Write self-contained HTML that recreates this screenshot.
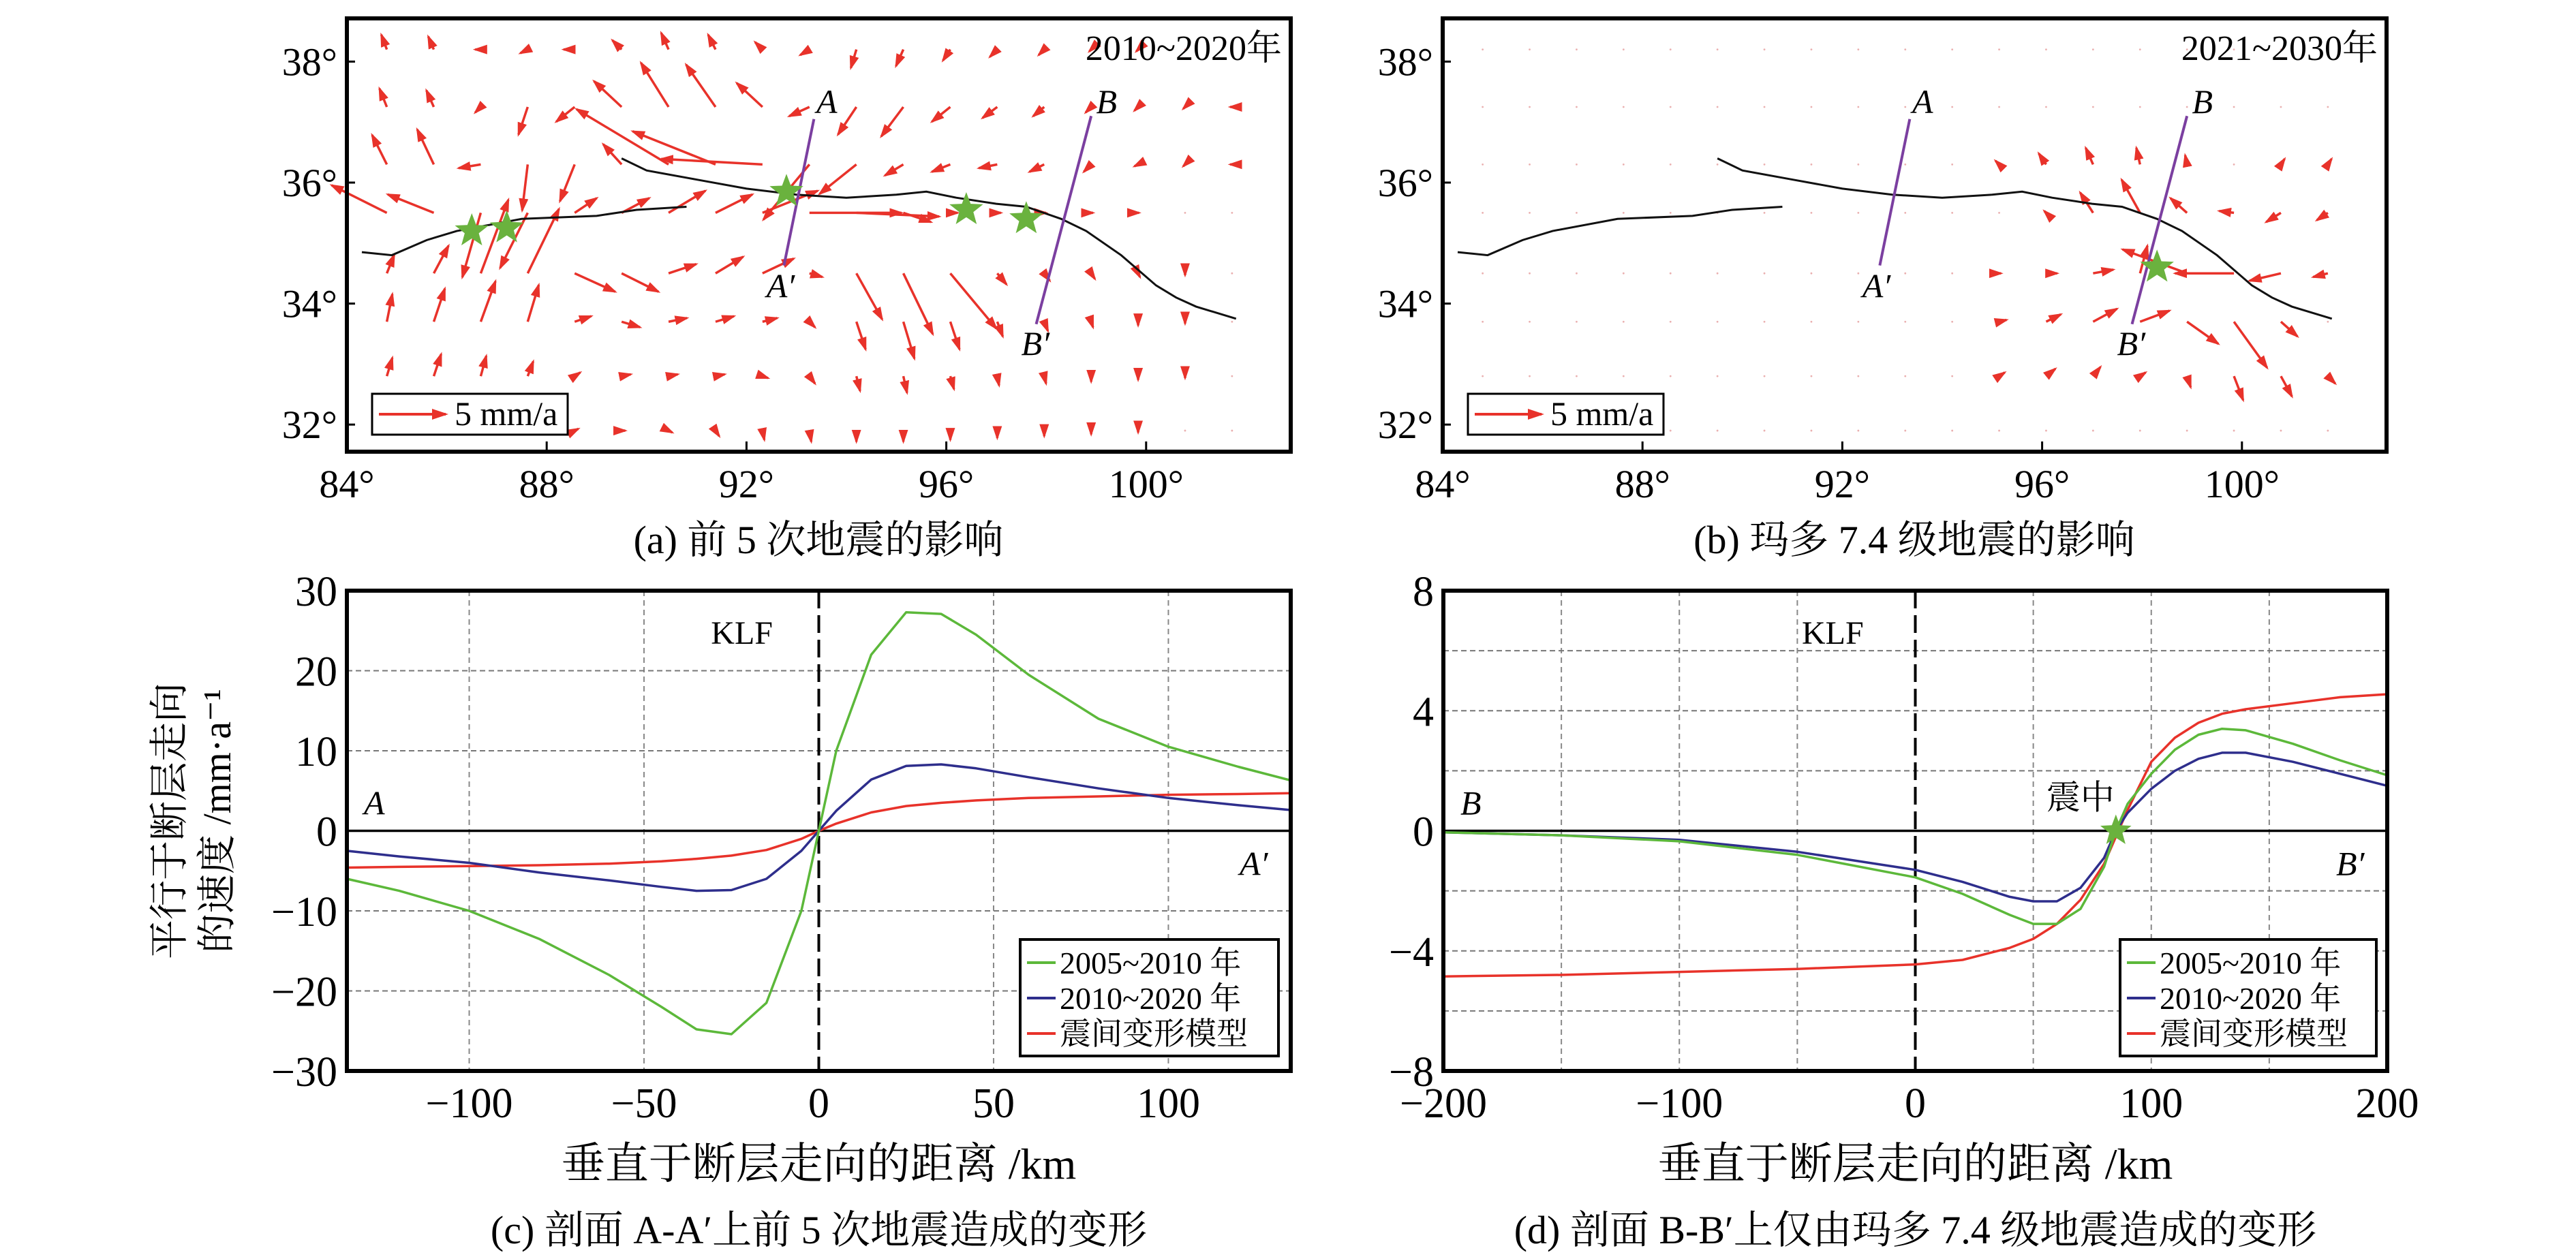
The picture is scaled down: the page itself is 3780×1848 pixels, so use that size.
<!DOCTYPE html>
<html><head><meta charset="utf-8">
<style>
html,body{margin:0;padding:0;background:#fff;}
svg text{font-family:"Liberation Serif","Noto Serif CJK SC",serif;fill:#000;}
</style></head>
<body>
<svg id="fig" xmlns="http://www.w3.org/2000/svg" width="3780" height="1843" viewBox="0 0 3780 1843">
<defs>
<marker id="ah" markerWidth="6" markerHeight="5" refX="5" refY="2.5" orient="auto" markerUnits="strokeWidth"><path d="M0,0.5 L6,2.5 L0,4.5 z" fill="#e8322a"/></marker>
</defs>
</svg>
<script>
// ---------- data ----------
const mapLon0 = 84.8, mapLonStep = 0.94;
const mapRowLats = [38.2, 37.25, 36.3, 35.5, 34.5, 33.7, 32.8, 31.9];
const mapAU = [
[-0.3,-0.3,-0.3,-0.4,-0.6,-0.5,-0.4,-0.4,-0.4,-0.5,-0.3,-0.4,-0.4,-0.4,-0.3,-0.1,-0.1,0,0],
[-0.4,-0.4,-0.3,-0.5,-1,-1.5,-1.5,-1.6,-1.4,-1.1,-1,-1.2,-1,-0.8,-0.6,-0.3,-0.2,-0.1,-0.1],
[-0.8,-0.9,-1.2,-0.3,-0.8,-1,-5,-4.5,-5.5,-2.5,-2,-1,-1,-1,-0.8,-0.4,-0.2,-0.1,-0.1],
[-3,-2.5,-1,-1.5,1.2,1.5,2,2,3,5,4.5,1.5,0.4,0.2,0.1,0.1,0.05,0,0],
[0.4,0.8,1.5,1.7,2.2,2,1.5,1.5,1.7,0.7,1.4,1.6,2.5,0.5,0.3,0.2,0.1,0,0],
[0.3,0.6,0.8,0.6,0.9,1,1,1,0.8,0.3,0.5,0.6,0.5,0.3,0.2,0.1,0,0,0],
[0.3,0.4,0.3,0.3,0.3,0.5,0.5,0.5,0.3,0.3,0.2,0.2,0.2,0.1,0.1,0,0,0,0],
[0,0,0,0,0.2,0.2,0.2,0.2,0.1,0.1,0,0,0,0,0,0,0,0,0]];
const mapAV = [
[0.8,0.7,0,-0.2,0,0.5,0.9,0.8,0.4,-0.3,-1,-0.9,-0.6,-0.4,-0.3,-0.1,-0.1,0,0],
[1,0.9,-0.3,-1.5,-0.8,1.4,2.4,2.3,1.3,-0.5,-1.5,-1.6,-0.8,-0.6,-0.5,-0.3,-0.2,-0.1,0],
[1.6,1.9,-0.2,-2.5,-2,1.1,3,1.8,0.3,-3,-1.6,-0.6,-0.4,-0.2,-0.4,-0.4,-0.1,-0.1,0],
[1.5,1,-3.5,-3,0.8,0.8,1.2,1,1.2,0,-0.2,-0.5,0,0,0,0,0,0,0],
[1,1.5,4,3.5,-1,-1,0.5,0.9,0.8,-0.2,-2.5,-3.3,-3,-0.6,-0.4,-0.3,-0.2,-0.1,0],
[1.5,1.8,2.2,2,0.3,-0.3,0.2,0.3,0.2,-0.3,-1.5,-2,-1.5,-0.8,-0.5,-0.3,-0.2,-0.1,0],
[1,1.2,1.1,0.8,0.2,0.1,0.1,0.1,-0.1,-0.4,-0.8,-0.9,-0.7,-0.5,-0.4,-0.3,-0.2,-0.1,0],
[0,0,0,0,0.1,0,-0.1,-0.3,-0.5,-0.6,-0.6,-0.6,-0.5,-0.4,-0.3,-0.2,-0.1,0,0]];
const mapBU = [
[0,0,0,0,0,0,0,0,0,0,0,0,0,0,0,0,0,0,0],
[0,0,0,0,0,0,0,0,0,0,0,0,0,0,0,0,0,0,0],
[0,0,0,0,0,0,0,0,0,0,0,-0.2,-0.4,-0.4,-0.2,-0.1,0,0.2,0.2],
[0,0,0,0,0,0,0,0,0,0,0,0,-0.1,-0.7,-1,-0.9,-0.8,-0.8,-0.6],
[0,0,0,0,0,0,0,0,0,0,0,0.1,0.6,1.1,0.4,-3.5,-3.2,-1.7,-0.8],
[0,0,0,0,0,0,0,0,0,0,0,0.4,0.8,1.3,1.6,1.7,1.8,0.9,0],
[0,0,0,0,0,0,0,0,0,0,0,0.3,0.5,0.4,0.3,0.2,0.5,0.6,0.4],
[0,0,0,0,0,0,0,0,0,0,0,0,0,0,0,0,0,0,0]];
const mapBV = [
[0,0,0,0,0,0,0,0,0,0,0,0,0,0,0,0,0,0,0],
[0,0,0,0,0,0,0,0,0,0,0,0,0,0,0,0,0,0,0],
[0,0,0,0,0,0,0,0,0,0,0,0.2,0.6,0.9,0.9,0.5,0,0.3,0.3],
[0,0,0,0,0,0,0,0,0,0,0,0,0.1,1.1,1.8,0.8,0.1,-0.5,-0.4],
[0,0,0,0,0,0,0,0,0,0,0,0,0,0.2,1.5,1.3,0,-0.4,-0.2],
[0,0,0,0,0,0,0,0,0,0,0,0.1,0.4,0.7,0.6,-1.2,-2.5,-0.8,0],
[0,0,0,0,0,0,0,0,0,0,0,0.2,0.4,0.5,0.2,-0.6,-1.3,-1.1,-0.4],
[0,0,0,0,0,0,0,0,0,0,0,0,0,0,0,0,0,0,0]];
const fault1Lon = [84.3,84.9,85.6,86.2,87.5,89,89.8,90.8];
const fault1Lat = [34.85,34.8,35.05,35.2,35.4,35.45,35.55,35.6];
const fault2Lon = [89.5,90,91,92,93,94,95,95.6,96.2,97,97.6,98.3,98.8,99.5,100.2,100.6,101,101.8];
const fault2Lat = [36.4,36.2,36.05,35.9,35.8,35.75,35.8,35.85,35.75,35.65,35.6,35.4,35.2,34.8,34.3,34.1,33.95,33.75];
const starsALon = [86.5,87.2,92.8,96.4,97.6];
const starsALat = [35.2,35.25,35.85,35.55,35.4];
const starsBLon = [98.3];
const starsBLat = [34.6];

const cX = [-135,-120,-100,-80,-60,-45,-35,-25,-15,-5,0,5,15,25,35,45,60,80,100,120,135];
const cGreen = [-6,-7.5,-10,-13.5,-18,-22,-24.8,-25.4,-21.5,-10,0,10,22,27.3,27.1,24.5,19.5,14,10.5,8,6.3];
const cBlue = [-2.5,-3.2,-4,-5.2,-6.2,-7,-7.5,-7.4,-6,-2.5,0,2.5,6.4,8.1,8.3,7.8,6.7,5.3,4.1,3.2,2.6];
const cRed = [-4.6,-4.5,-4.4,-4.3,-4.1,-3.8,-3.5,-3.1,-2.4,-1,0,0.9,2.3,3.1,3.5,3.8,4.1,4.3,4.5,4.6,4.7];
const dX = [-200,-150,-100,-50,0,20,40,50,60,70,80,85,90,100,110,120,130,140,160,180,200];
const dGreen = [-0.05,-0.15,-0.35,-0.8,-1.55,-2.1,-2.8,-3.1,-3.1,-2.6,-1.2,0,0.9,1.9,2.7,3.2,3.4,3.35,2.9,2.35,1.85];
const dBlue = [-0.05,-0.15,-0.3,-0.7,-1.3,-1.7,-2.2,-2.35,-2.35,-1.9,-0.9,0,0.6,1.4,2.0,2.4,2.6,2.6,2.3,1.9,1.5];
const dRed = [-4.85,-4.8,-4.7,-4.6,-4.45,-4.3,-3.9,-3.6,-3.1,-2.3,-1.1,-0.2,0.7,2.3,3.1,3.6,3.9,4.05,4.25,4.45,4.55];
const cYTicks = [30,20,10,0,-10,-20,-30];
const cYTickLabels = ["30","20","10","0","−10","−20","−30"];
const cXTicks = [-100,-50,0,50,100];
const cXTickLabels = ["−100","−50","0","50","100"];
const dYTicks = [8,4,0,-4,-8];
const dYTickLabels = ["8","4","0","−4","−8"];
const dXTicks = [-200,-100,0,100,200];
const dXTickLabels = ["−200","−100","0","100","200"];
const mapLonTicks = [84,88,92,96,100];
const mapLatTicks = [38,36,34,32];

// ---------- helpers ----------
const svg = document.getElementById('fig');
const NS = 'http://www.w3.org/2000/svg';
function mk(tag, attrs, parent){
  const e = document.createElementNS(NS, tag);
  for (const k in attrs) e.setAttribute(k, attrs[k]);
  (parent || svg).appendChild(e);
  return e;
}
function txt(x, y, s, size, parent, extra){
  const a = {x:x, y:y, 'font-size':size};
  if (extra) for (const k in extra) a[k] = extra[k];
  const t = mk('text', a, parent);
  t.textContent = s;
  return t;
}
function starPts(cx, cy, r){
  const p = [];
  for (let i = 0; i < 10; i++){
    const rr = i % 2 ? r * 0.42 : r;
    const an = -Math.PI/2 + i * Math.PI/5;
    p.push((cx + rr*Math.cos(an)).toFixed(1) + ',' + (cy + rr*Math.sin(an)).toFixed(1));
  }
  return p.join(' ');
}

// ---------- maps ----------
function drawMap(ox, U, V, sLon, sLat, period, tag, caption){
  const g = mk('g', {});
  
  
  const X = lon => ox + (lon - 84) * 73.3;
  const Y = lat => 268 - (lat - 36) * 88.8;
  const scale = 27;
  for (let r = 0; r < mapRowLats.length; r++){
    for (let c = 0; c < 19; c++){
      const lon = mapLon0 + c * mapLonStep;
      const x0 = X(lon), y0 = Y(mapRowLats[r]);
      const u = U[r][c], v = V[r][c];
      if (Math.abs(u) + Math.abs(v) < 0.05){
        const d = mk('circle', {cx:x0, cy:y0, r:1.4, fill:'#eab0b0'}, g);
        
        
      } else {
        const a = mk('line', {x1:x0, y1:y0, x2:x0 + u*scale, y2:y0 - v*scale, stroke:'#e8322a', 'stroke-width':3.5, 'marker-end':'url(#ah)'}, g);
        
        
      }
    }
  }
  const f1 = mk('polyline', {points: fault1Lon.map((l,i)=>X(l)+','+Y(fault1Lat[i])).join(' '), fill:'none', stroke:'#111', 'stroke-width':3}, g);
  
  
  const f2 = mk('polyline', {points: fault2Lon.map((l,i)=>X(l)+','+Y(fault2Lat[i])).join(' '), fill:'none', stroke:'#111', 'stroke-width':3}, g);
  
  
  const pa = mk('line', {x1:X(93.35), y1:Y(37.05), x2:X(92.75), y2:Y(34.63), stroke:'#7b3fa0', 'stroke-width':4}, g);
  
  
  const pb = mk('line', {x1:X(98.9), y1:Y(37.1), x2:X(97.8), y2:Y(33.66), stroke:'#7b3fa0', 'stroke-width':4}, g);
  
  
  const it = {'font-style':'italic'};
  let t;
  t = txt(X(93.4), Y(37.15), 'A', 50, g, it);
  
  t = txt(X(92.4), Y(34.1), 'A′', 50, g, it);
  
  t = txt(X(99.0), Y(37.15), 'B', 50, g, it);
  
  t = txt(X(97.5), Y(33.15), 'B′', 50, g, it);
  
  for (let i = 0; i < sLon.length; i++){
    const s = mk('polygon', {points: starPts(X(sLon[i]), Y(sLat[i]), 26), fill:'#6ab23e'}, g);
    
    
  }
  const fr = mk('rect', {x:ox, y:27, width:1385, height:636, fill:'none', stroke:'#000', 'stroke-width':6}, g);
  
  
  for (const lon of mapLonTicks){
    mk('line', {x1:X(lon), y1:663, x2:X(lon), y2:648, stroke:'#000', 'stroke-width':3}, g);
    const l = txt(X(lon), 730, lon + '°', 58, g, {'text-anchor':'middle'});
    
  }
  for (const lat of mapLatTicks){
    mk('line', {x1:ox, y1:Y(lat), x2:ox+12, y2:Y(lat), stroke:'#000', 'stroke-width':3}, g);
    const l = txt(ox - 14, Y(lat) + 20, lat + '°', 58, g, {'text-anchor':'end'});
    
  }
  t = txt(ox + 1372, 88, period, 52, g, {'text-anchor':'end'});
  
  const lb = mk('rect', {x:ox+37, y:578, width:287, height:60, fill:'#fff', stroke:'#000', 'stroke-width':3}, g);
  
  
  mk('line', {x1:ox+47, y1:608, x2:ox+145, y2:608, stroke:'#e8322a', 'stroke-width':4, 'marker-end':'url(#ah)'}, g);
  t = txt(ox + 158, 624, '5 mm/a', 50, g);
  
  t = txt(ox + 692, 812, caption, 58, g, {'text-anchor':'middle'});
  
}
drawMap(509, mapAU, mapAV, starsALon, starsALat, '2010~2020年', 'a', '(a) 前 5 次地震的影响');
drawMap(2117, mapBU, mapBV, starsBLon, starsBLat, '2021~2030年', 'b', '(b) 玛多 7.4 级地震的影响');

// ---------- profiles ----------
function drawProfile(o){
  const g = mk('g', {});
  
  
  const L = o.x0, R = o.x1, T = 867, B = 1572;
  const X = v => L + (v - o.xmin) / (o.xmax - o.xmin) * (R - L);
  const Y = v => B - (v - o.ymin) / (o.ymax - o.ymin) * (B - T);
  for (const gx of o.gridX){
    const l = mk('line', {x1:X(gx), y1:T, x2:X(gx), y2:B, stroke:'#888', 'stroke-width':2, 'stroke-dasharray':'8,6'}, g);
    
  }
  for (const gy of o.gridY){
    const l = mk('line', {x1:L, y1:Y(gy), x2:R, y2:Y(gy), stroke:'#777', 'stroke-width':2, 'stroke-dasharray':'8,5'}, g);
    
  }
  const z = mk('line', {x1:L, y1:Y(0), x2:R, y2:Y(0), stroke:'#000', 'stroke-width':3.5}, g);
  
  const kl = mk('line', {x1:X(0), y1:T, x2:X(0), y2:B, stroke:'#000', 'stroke-width':4, 'stroke-dasharray':'26,10'}, g);
  
  const series = [[o.red,'#e8322a','series-interseismic-model'],[o.blue,'#2e2e8c','series-2010-2020'],[o.green,'#5cb83a','series-2005-2010']];
  for (const s of series){
    const p = mk('polyline', {points: o.xs.map((x,i)=>X(x).toFixed(1)+','+Y(s[0][i]).toFixed(1)).join(' '), fill:'none', stroke:s[1], 'stroke-width':3.5, 'stroke-linejoin':'round'}, g);
    
    
  }
  const fr = mk('rect', {x:L, y:T, width:R-L, height:B-T, fill:'none', stroke:'#000', 'stroke-width':6}, g);
  
  
  o.yTicks.forEach((v,i)=>{
    const t = txt(L - 14, Y(v) + 22, o.yLabels[i], 62, g, {'text-anchor':'end'});
    
  });
  o.xTicks.forEach((v,i)=>{
    const t = txt(X(v), 1640, o.xLabels[i], 62, g, {'text-anchor':'middle'});
    
  });
  let t = txt(X(o.klfX), T + 78, 'KLF', 48, g, {'text-anchor':'middle'});
  
  t = txt(L + 25, Y(0) - 24, o.pl, 50, g, {'font-style':'italic'});
  
  t = txt(R - 75, Y(0) + 65, o.pl + '′', 50, g, {'font-style':'italic'});
  
  t = txt((L+R)/2, 1730, '垂直于断层走向的距离 /km', 64, g, {'text-anchor':'middle'});
  
  t = txt((L+R)/2, 1825, o.caption, 58, g, {'text-anchor':'middle'});
  
  const lx = o.legX, ly = 1379;
  const lb = mk('rect', {x:lx, y:ly, width:o.legW, height:171, fill:'#fff', stroke:'#000', 'stroke-width':4}, g);
  
  
  const ents = [['2005~2010 年','#5cb83a'],['2010~2020 年','#2e2e8c'],['震间变形模型','#e8322a']];
  ents.forEach((e,i)=>{
    const yy = ly + 34 + i*52;
    const ln = mk('line', {x1:lx+10, y1:yy, x2:lx+52, y2:yy, stroke:e[1], 'stroke-width':4}, g);
    
    const tt = txt(lx + 58, yy + 16, e[0], 46, g);
    
  });
  return {g, X, Y};
}
drawProfile({tag:'c', x0:509, x1:1894, xmin:-135, xmax:135, ymin:-30, ymax:30,
  xs:cX, green:cGreen, blue:cBlue, red:cRed, gridX:[-100,-50,50,100], gridY:[20,10,-10,-20],
  yTicks:cYTicks, yLabels:cYTickLabels, xTicks:cXTicks, xLabels:cXTickLabels,
  klfX:-22, pl:'A', legX:1497, legW:379, caption:'(c) 剖面 A-A′上前 5 次地震造成的变形'});
const pd = drawProfile({tag:'d', x0:2118, x1:3503, xmin:-200, xmax:200, ymin:-8, ymax:8,
  xs:dX, green:dGreen, blue:dBlue, red:dRed, gridX:[-150,-100,-50,50,100,150], gridY:[6,4,2,-2,-4,-6],
  yTicks:dYTicks, yLabels:dYTickLabels, xTicks:dXTicks, xLabels:dXTickLabels,
  klfX:-35, pl:'B', legX:3111, legW:376, caption:'(d) 剖面 B-B′上仅由玛多 7.4 级地震造成的变形'});
const ds = mk('polygon', {points: starPts(pd.X(85), pd.Y(0), 24), fill:'#6ab23e'}, pd.g);


const ep = txt(pd.X(70), pd.Y(0) - 32, '震中', 50, pd.g, {'text-anchor':'middle'});

const yt = mk('text', {'font-size':58, 'text-anchor':'middle'});


const t1 = mk('tspan', {x:0, y:0}, yt); t1.textContent = '平行于断层走向';
const t2 = mk('tspan', {x:0, y:70}, yt); t2.textContent = '的速度 /mm·a⁻¹';
yt.setAttribute('transform', 'translate(268,1205) rotate(-90)');
</script>
</body></html>
